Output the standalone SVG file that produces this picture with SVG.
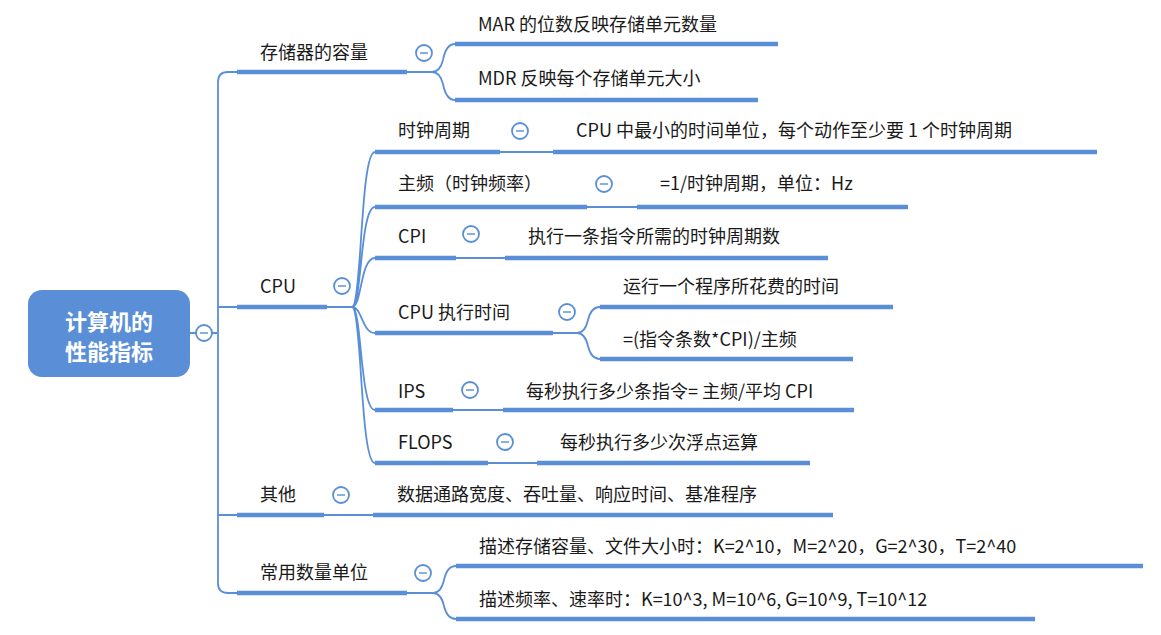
<svg xmlns="http://www.w3.org/2000/svg" width="1161" height="635" viewBox="0 0 1161 635">
<style>
.t{font-family:"Noto Sans CJK SC","Noto Sans",sans-serif;font-size:18px;fill:#1a1a1a}
.b{stroke:#5a8fd8;stroke-width:4.5;fill:none}
.c{stroke:#5a8fd8;stroke-width:1.8;fill:none}
.k{fill:#fff;stroke:#5a8fd8;stroke-width:1.8}
.m{stroke:#8aaee6;stroke-width:2}
</style>
<rect width="1161" height="635" fill="#fff"/>
<g id="connectors">
<path class="c" d="M190,333 H218 M237,72 H228 Q218,72 218,82 V583 Q218,593 228,593 H237 M218,307 H237 M218,515 H237"/>
<path class="c" d="M407,72 H432 Q440,72 443,60 Q446,44 455,44 M432,72 Q440,72 443,84 Q446,100 455,100"/>
<path class="c" d="M327,307 H352 C362,307 360,152 375,152 M352,307 C362,307 360,207 375,207 M352,307 C362,307 360,258 375,258 M352,307 C362,307 362,333 375,333 M352,307 C362,307 360,410 375,410 M352,307 C362,307 360,463 375,463"/>
<path class="c" d="M500,152 H553 M587,207 H637 M456,258 H505 M453,410 H503 M488,463 H537 M324,515 H373"/>
<path class="c" d="M553,333 H577 Q585,333 588,320 Q591,307 600,307 M577,333 Q585,333 588,346 Q591,359 600,359"/>
<path class="c" d="M407,593 H433 Q441,593 444,580 Q447,566 456,566 M433,593 Q441,593 444,606 Q447,619 456,619"/>
</g>
<g id="root"><rect x="28" y="290" width="162" height="87" rx="14" fill="#5a8fd8"/>
<text x="109" y="330" text-anchor="middle" font-family="Noto Sans CJK SC,sans-serif" font-size="22" font-weight="bold" fill="#fff">计算机的</text>
<text x="109" y="360" text-anchor="middle" font-family="Noto Sans CJK SC,sans-serif" font-size="22" font-weight="bold" fill="#fff">性能指标</text>
<circle class="k" cx="204" cy="333" r="8"/><line class="m" x1="200" y1="333" x2="208" y2="333"/></g>
<g id="n-storage"><path class="b" d="M237,72 H407"/><text class="t" x="260" y="59">存储器的容量</text><circle class="k" cx="424" cy="53" r="8"/><line class="m" x1="420" y1="53" x2="428" y2="53"/></g>
<g id="n-mar"><path class="b" d="M455,44 H778"/><text class="t" x="478" y="31">MAR 的位数反映存储单元数量</text></g>
<g id="n-mdr"><path class="b" d="M455,100 H758"/><text class="t" x="478" y="85">MDR 反映每个存储单元大小</text></g>
<g id="n-cpu"><path class="b" d="M237,307 H327"/><text class="t" x="260" y="293">CPU</text><circle class="k" cx="342" cy="286" r="8"/><line class="m" x1="338" y1="286" x2="346" y2="286"/></g>
<g id="n-clk"><path class="b" d="M375,152 H500"/><text class="t" x="398" y="137">时钟周期</text><circle class="k" cx="520" cy="131" r="8"/><line class="m" x1="516" y1="131" x2="524" y2="131"/></g>
<g id="n-clk-d"><path class="b" d="M553,152 H1097"/><text class="t" x="576" y="137">CPU 中最小的时间单位，每个动作至少要 1 个时钟周期</text></g>
<g id="n-freq"><path class="b" d="M375,207 H587"/><text class="t" x="398" y="190">主频（时钟频率）</text><circle class="k" cx="604" cy="184" r="8"/><line class="m" x1="600" y1="184" x2="608" y2="184"/></g>
<g id="n-freq-d"><path class="b" d="M637,207 H908"/><text class="t" x="660" y="190">=1/时钟周期，单位：Hz</text></g>
<g id="n-cpi"><path class="b" d="M375,258 H456"/><text class="t" x="398" y="243">CPI</text><circle class="k" cx="471" cy="234" r="8"/><line class="m" x1="467" y1="234" x2="475" y2="234"/></g>
<g id="n-cpi-d"><path class="b" d="M505,258 H828"/><text class="t" x="528" y="243">执行一条指令所需的时钟周期数</text></g>
<g id="n-time"><path class="b" d="M375,333 H553"/><text class="t" x="398" y="319">CPU 执行时间</text><circle class="k" cx="567" cy="312" r="8"/><line class="m" x1="563" y1="312" x2="571" y2="312"/></g>
<g id="n-time-a"><path class="b" d="M600,307 H893"/><text class="t" x="623" y="293">运行一个程序所花费的时间</text></g>
<g id="n-time-b"><path class="b" d="M600,359 H853"/><text class="t" x="623" y="346">=(指令条数*CPI)/主频</text></g>
<g id="n-ips"><path class="b" d="M375,410 H453"/><text class="t" x="398" y="398">IPS</text><circle class="k" cx="470" cy="390" r="8"/><line class="m" x1="466" y1="390" x2="474" y2="390"/></g>
<g id="n-ips-d"><path class="b" d="M503,410 H854"/><text class="t" x="526" y="398">每秒执行多少条指令= 主频/平均 CPI</text></g>
<g id="n-flops"><path class="b" d="M375,463 H488"/><text class="t" x="398" y="449">FLOPS</text><circle class="k" cx="505" cy="442" r="8"/><line class="m" x1="501" y1="442" x2="509" y2="442"/></g>
<g id="n-flops-d"><path class="b" d="M537,463 H810"/><text class="t" x="560" y="449">每秒执行多少次浮点运算</text></g>
<g id="n-other"><path class="b" d="M237,515 H324"/><text class="t" x="260" y="501">其他</text><circle class="k" cx="341" cy="495" r="8"/><line class="m" x1="337" y1="495" x2="345" y2="495"/></g>
<g id="n-other-d"><path class="b" d="M373,515 H833"/><text class="t" x="397" y="501">数据通路宽度、吞吐量、响应时间、基准程序</text></g>
<g id="n-unit"><path class="b" d="M237,593 H407"/><text class="t" x="260" y="579">常用数量单位</text><circle class="k" cx="423" cy="573" r="8"/><line class="m" x1="419" y1="573" x2="427" y2="573"/></g>
<g id="n-unit-a"><path class="b" d="M456,566 H1143"/><text class="t" x="479" y="553">描述存储容量、文件大小时：K=2^10，M=2^20，G=2^30，T=2^40</text></g>
<g id="n-unit-b"><path class="b" d="M456,619 H1035"/><text class="t" x="479" y="606">描述频率、速率时：K=10^3, M=10^6, G=10^9, T=10^12</text></g>
</svg>
